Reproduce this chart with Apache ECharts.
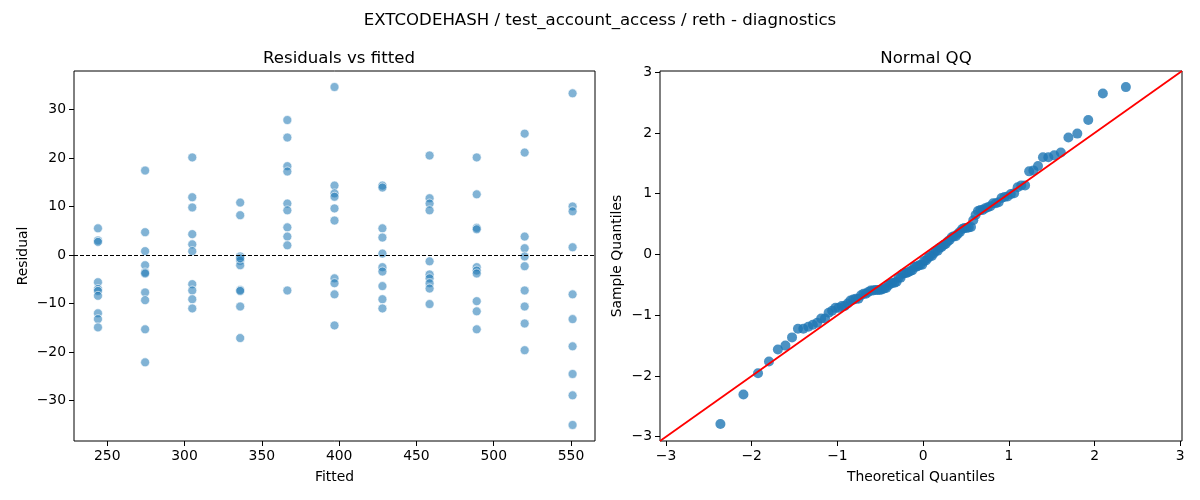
<!DOCTYPE html>
<html>
<head>
<meta charset="utf-8">
<script src="https://cdn.jsdelivr.net/npm/echarts@6/dist/echarts.min.js"></script>
<style>
  html, body { margin: 0; padding: 0; background: #fff; }
  #chart { width: 1200px; height: 500px; }
</style>
</head>
<body>
<div id="chart"></div>
<script>
// fitted value of each column of points
const fitted = [244, 274.5, 305, 336, 366.5, 397, 428, 458.5, 489, 520, 551];
// residuals, one list per fitted column
const residuals = [
  [5.5, 3.0, 2.7, -5.6, -7.0, -7.4, -8.4, -12.0, -13.2, -14.9],
  [17.4, 4.7, 0.8, -2.1, -3.6, -3.8, -7.7, -9.3, -15.3, -22.1],
  [20.1, 11.9, 9.8, 4.3, 2.2, 0.8, -6.0, -7.3, -9.1, -11.0],
  [10.8, 8.2, -0.3, -1.2, -2.1, -7.2, -7.4, -10.6, -17.1, -0.7],
  [27.8, 24.2, 18.3, 17.2, 10.6, 9.2, 5.7, 3.8, 2.0, -7.3],
  [34.6, 14.3, 12.7, 12.0, 9.6, 7.1, -4.8, -5.8, -8.1, -14.5],
  [14.3, 13.9, 5.5, 3.6, 0.3, -2.5, -3.4, -6.4, -9.1, -11.0],
  [20.5, 11.7, 10.6, 9.2, -1.3, -4.0, -4.8, -5.8, -6.9, -10.1],
  [20.1, 12.5, 5.6, 5.3, -2.5, -3.2, -3.8, -9.5, -11.6, -15.3],
  [25.0, 21.1, 3.8, 1.4, -0.3, -2.3, -7.3, -10.6, -14.1, -19.6],
  [33.3, 10.0, 9.0, 1.6, -8.1, -13.2, -18.8, -24.5, -28.9, -35.0]
];
const fittedTicks = [250, 300, 350, 400, 450, 500, 550];
const residualTicks = [-30, -20, -10, 0, 10, 20, 30];
const qqTicks = [-3, -2, -1, 0, 1, 2, 3];

const fittedRange = [228.5, 565.5];
const residualRange = [-38.3, 37.9];
const qqRange = [-3.07, 3.02];

// inverse normal cdf (Acklam)
function normInv(p) {
  const a = [-39.69683028665376, 220.9460984245205, -275.9285104469687, 138.3577518672690, -30.66479806614716, 2.506628277459239];
  const b = [-54.47609879822406, 161.5858368580409, -155.6989798598866, 66.80131188771972, -13.28068155288572];
  const c = [-0.007784894002430293, -0.3223964580411365, -2.400758277161838, -2.549732539343734, 4.374664141464968, 2.938163982698783];
  const d = [0.007784695709041462, 0.3224671290700398, 2.445134137142996, 3.754408661907416];
  const lo = 0.02425, hi = 1 - lo;
  let q, r;
  if (p < lo) {
    q = Math.sqrt(-2 * Math.log(p));
    return (((((c[0]*q+c[1])*q+c[2])*q+c[3])*q+c[4])*q+c[5]) / ((((d[0]*q+d[1])*q+d[2])*q+d[3])*q+1);
  }
  if (p > hi) {
    q = Math.sqrt(-2 * Math.log(1 - p));
    return -(((((c[0]*q+c[1])*q+c[2])*q+c[3])*q+c[4])*q+c[5]) / ((((d[0]*q+d[1])*q+d[2])*q+d[3])*q+1);
  }
  q = p - 0.5; r = q * q;
  return (((((a[0]*r+a[1])*r+a[2])*r+a[3])*r+a[4])*r+a[5])*q / (((((b[0]*r+b[1])*r+b[2])*r+b[3])*r+b[4])*r+1);
}

const scatterData = [];
fitted.forEach((f, i) => residuals[i].forEach(r => scatterData.push([f, r])));

// normal QQ of the standardized residuals
const allRes = scatterData.map(p => p[1]).sort((x, y) => x - y);
const n = allRes.length;
const mean = allRes.reduce((s, v) => s + v, 0) / n;
const sd = Math.sqrt(allRes.reduce((s, v) => s + (v - mean) * (v - mean), 0) / n);
const qqData = allRes.map((v, i) => [normInv((i + 1) / (n + 1)), (v - mean) / sd]);

const FONT = "DejaVu Sans";
const minus = v => String(v).replace('-', '\u2212');

function axis(range, ticks, name, gap, extra) {
  return Object.assign({
    type: 'value',
    min: range[0],
    max: range[1],
    name: name,
    nameLocation: 'middle',
    nameGap: gap,
    nameTextStyle: { fontFamily: FONT, fontSize: 13.9, color: '#000' },
    axisLine: { show: false, onZero: false },
    axisTick: { show: true, inside: false, length: 5, customValues: ticks, lineStyle: { color: '#000', width: 1 } },
    axisLabel: { customValues: ticks, margin: 8, fontFamily: FONT, fontSize: 13.9, color: '#000', formatter: minus },
    splitLine: { show: false }
  }, extra || {});
}

const chart = echarts.init(document.getElementById('chart'));
chart.setOption({
  backgroundColor: '#fff',
  animation: false,
  title: [
    { text: 'EXTCODEHASH / test_account_access / reth - diagnostics', left: 'center', top: 7,
      textStyle: { fontFamily: FONT, fontSize: 16.6, fontWeight: 'normal', color: '#000' } },
    { text: 'Residuals vs fitted', left: 334, top: 45, textAlign: 'center',
      textStyle: { fontFamily: FONT, fontSize: 16.6, fontWeight: 'normal', color: '#000' } },
    { text: 'Normal QQ', left: 921, top: 45, textAlign: 'center',
      textStyle: { fontFamily: FONT, fontSize: 16.6, fontWeight: 'normal', color: '#000' } }
  ],
  grid: [
    { left: 74, right: 605, top: 71, height: 370, show: true, borderColor: '#000', borderWidth: 1, backgroundColor: 'transparent' },
    { left: 660, right: 18, top: 71, height: 370, show: true, borderColor: '#000', borderWidth: 1, backgroundColor: 'transparent' }
  ],
  xAxis: [
    axis(fittedRange, fittedTicks, 'Fitted', 29, { gridIndex: 0 }),
    axis(qqRange, qqTicks, 'Theoretical Quantiles', 29, { gridIndex: 1 })
  ],
  yAxis: [
    axis(residualRange, residualTicks, 'Residual', 44, { gridIndex: 0 }),
    axis(qqRange, qqTicks, 'Sample Quantiles', 36, { gridIndex: 1 })
  ],
  series: [
    {
      type: 'scatter',
      xAxisIndex: 0, yAxisIndex: 0,
      data: scatterData,
      symbolSize: 9,
      itemStyle: { color: 'rgba(31,119,180,0.7)', borderColor: '#fff', borderWidth: 0.8 },
      markLine: {
        silent: true,
        symbol: 'none',
        label: { show: false },
        lineStyle: { color: '#000', type: [4, 2], width: 1 },
        data: [{ yAxis: 0 }]
      },
      z: 3
    },
    {
      type: 'line',
      xAxisIndex: 1, yAxisIndex: 1,
      data: [[qqRange[0], qqRange[0]], [qqRange[1], qqRange[1]]],
      showSymbol: false,
      lineStyle: { color: '#ff0000', width: 1.8 },
      z: 4
    },
    {
      type: 'scatter',
      xAxisIndex: 1, yAxisIndex: 1,
      data: qqData,
      symbolSize: 10,
      itemStyle: { color: '#1f77b4' },
      z: 3
    }
  ]
});
</script>
</body>
</html>
